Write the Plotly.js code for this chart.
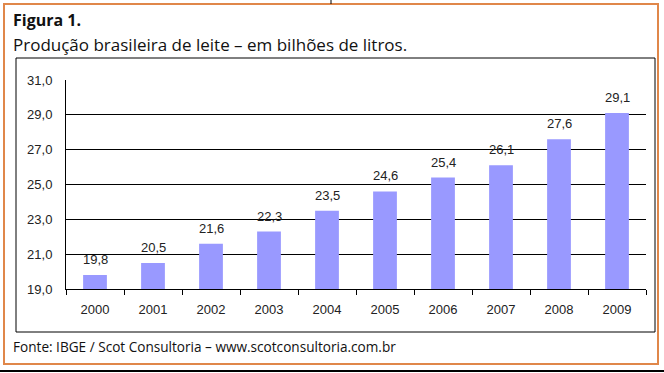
<!DOCTYPE html>
<html><head><meta charset="utf-8">
<script src="https://cdn.plot.ly/plotly-3.0.1.min.js"></script>
<style>html,body{margin:0;padding:0;background:#fff}#c{width:664px;height:373px}</style>
</head><body><div id="c"></div>
<script>
const years = ['2000','2001','2002','2003','2004','2005','2006','2007','2008','2009'];
const production = [19.8, 20.5, 21.6, 22.3, 23.5, 24.6, 25.4, 26.1, 27.6, 29.1];
const yTicks = [19, 21, 23, 25, 27, 29, 31];
const titleLine1 = 'Figura 1.';
const titleLine2 = 'Produção brasileira de leite – em bilhões de litros.';
const sourceText = 'Fonte: IBGE / Scot Consultoria – www.scotconsultoria.com.br';

const L = 66, R = 646, T = 80, B = 289, W = 664, H = 373;
const px = x => (x - L) / (R - L);
const py = y => (B - y) / (B - T);
const font = 'Liberation Sans, Arial, sans-serif';
const tfont = 'Open Sans, Noto Sans, sans-serif';

const trace = {
  type: 'bar', x: years, y: production,
  marker: {color: '#9999FF'},
  hoverinfo: 'none'
};
// value labels placed on the category axis by category index
const valueLabels = years.map((yr, i) => ({
  x: i, y: production[i], xref: 'x', yref: 'y',
  text: production[i].toFixed(1).replace('.', ','),
  showarrow: false, yanchor: 'bottom', yshift: 6,
  font: {family: font, size: 13, color: '#222'}
}));
const layout = {
  width: W, height: H,
  margin: {l: L, r: W - R, t: T, b: H - B, pad: 0},
  paper_bgcolor: '#fff', plot_bgcolor: '#fff',
  separators: ',.',
  bargap: 0.59,
  showlegend: false,
  xaxis: {
    type: 'category', categoryarray: years, categoryorder: 'array',
    range: [-0.5, years.length - 0.5],
    showline: true, linecolor: '#000', linewidth: 1,
    ticks: 'outside', tickson: 'boundaries', ticklen: 5, tickcolor: '#000',
    ticklabelstandoff: 8,
    tickfont: {family: font, size: 13, color: '#222'}, showgrid: false,
    automargin: false
  },
  yaxis: {
    range: [19, 31], tickvals: yTicks, tickformat: '.1f',
    showline: true, linecolor: '#000', linewidth: 1,
    showgrid: true, gridcolor: '#000', gridwidth: 1,
    ticks: '', ticklabelstandoff: 10,
    tickfont: {family: font, size: 13, color: '#222'},
    zeroline: false, automargin: false, fixedrange: true
  },
  shapes: [
    {type: 'rect', xref: 'paper', yref: 'paper', x0: px(4), x1: px(658), y0: py(364), y1: py(4),
     line: {color: '#E0874A', width: 2}, layer: 'below'},
    {type: 'rect', xref: 'paper', yref: 'paper', x0: px(16), x1: px(655), y0: py(332), y1: py(58),
     line: {color: '#000', width: 1}, layer: 'below'},
    {type: 'line', xref: 'paper', yref: 'paper', x0: px(331), x1: px(331), y0: py(0), y1: py(4),
     line: {color: '#000', width: 1}},
    {type: 'line', xref: 'paper', yref: 'paper', x0: px(0), x1: px(664), y0: py(371), y1: py(371),
     line: {color: '#000', width: 2}}
  ],
  annotations: [
    {xref: 'paper', yref: 'paper', x: px(11), y: py(20), xanchor: 'left', yanchor: 'middle',
     text: '<b>' + titleLine1 + '</b>', showarrow: false, font: {family: tfont, size: 16, color: '#111'}},
    {xref: 'paper', yref: 'paper', x: px(11), y: py(44), xanchor: 'left', yanchor: 'middle',
     text: titleLine2, showarrow: false, font: {family: tfont, size: 17, color: '#111'}},
    {xref: 'paper', yref: 'paper', x: px(11), y: py(346), xanchor: 'left', yanchor: 'middle',
     text: sourceText, showarrow: false, font: {family: tfont, size: 13.6, color: '#111'}}
  ].concat(valueLabels)
};
Plotly.newPlot('c', [trace], layout, {displayModeBar: false, staticPlot: true});
</script></body></html>
